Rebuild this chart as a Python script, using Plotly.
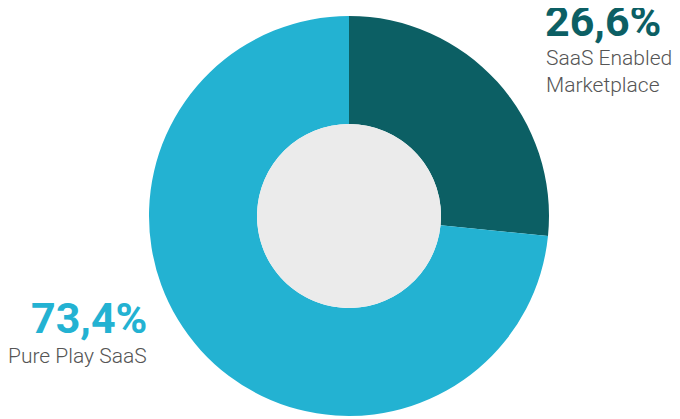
import plotly.graph_objects as go

labels = ["SaaS Enabled Marketplace", "Pure Play SaaS"]
values = [26.6, 73.4]
value_text = ["26,6%", "73,4%"]
colors = ["#0c5f64", "#23b2d2"]

W, H = 680, 419
OFF = 8  # page body margin
cx, cy, R, r = 349 - OFF, 216 - OFF, 200, 92

fig = go.Figure(go.Pie(
    labels=labels, values=values, hole=r / R, sort=False, direction="clockwise",
    rotation=0, marker=dict(colors=colors, line=dict(width=0)),
    textinfo="none", hoverinfo="label+percent", showlegend=False,
    domain=dict(x=[(cx - R) / W, (cx + R) / W], y=[(H - cy - R) / H, (H - cy + R) / H]),
))

fig.add_shape(type="circle", xref="paper", yref="paper",
              x0=(cx - r) / W, x1=(cx + r) / W,
              y0=(H - cy - r) / H, y1=(H - cy + r) / H,
              fillcolor="#ebebeb", line=dict(width=0), layer="above")

def px(x): return (x - OFF) / W
def py(y): return (H - (y - OFF)) / H

fig.add_annotation(x=px(543), y=py(21), xref="paper", yref="paper", text="<b>" + value_text[0] + "</b>",
                   showarrow=False, xanchor="left", yanchor="middle",
                   font=dict(family="Roboto", size=43, color=colors[0]))
fig.add_annotation(x=px(544), y=py(71), xref="paper", yref="paper", text="SaaS Enabled<br>Marketplace",
                   showarrow=False, xanchor="left", yanchor="middle", align="left",
                   font=dict(family="Roboto", size=21, color="#555555", weight=300))
fig.add_annotation(x=px(149), y=py(318), xref="paper", yref="paper", text="<b>" + value_text[1] + "</b>",
                   showarrow=False, xanchor="right", yanchor="middle",
                   font=dict(family="Roboto", size=43, color=colors[1]))
fig.add_annotation(x=px(149), y=py(356), xref="paper", yref="paper", text="Pure Play SaaS",
                   showarrow=False, xanchor="right", yanchor="middle",
                   font=dict(family="Roboto", size=21, color="#555555", weight=300))

fig.update_layout(width=W, height=H, margin=dict(l=0, r=0, t=0, b=0),
                  paper_bgcolor="white", plot_bgcolor="white")
fig.write_html("out.html")
